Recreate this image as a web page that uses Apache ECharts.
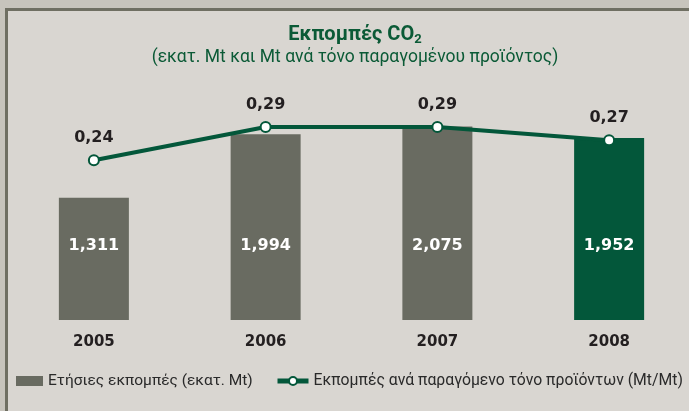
<!DOCTYPE html>
<html lang="el">
<head>
    <meta charset="UTF-8">
    <title>Εκπομπές CO2</title>
    <style>
        body { margin: 0; background: #c7c4bc; overflow: hidden; }
        #frame {
            position: absolute; left: 5px; top: 8px; right: 0; bottom: 0;
            border-left: 3px solid #6f6f62; border-top: 3px solid #6f6f62;
            background: #d9d6d1;
        }
        #container { position: absolute; left: 0; top: 0; width: 710px; height: 411px; }
    </style>
</head>
<body>
<div id="frame"></div>
<div id="container"></div>
<script type="text/javascript" src="https://cdn.jsdelivr.net/npm/echarts@6/dist/echarts.min.js"></script>
<script type="text/javascript">
    var years = ['2005', '2006', '2007', '2008'];
    var annualEmissions = [1.311, 1.994, 2.075, 1.952];
    var emissionsPerTon = [0.24, 0.29, 0.29, 0.27];

    var barName = 'Ετήσιες εκπομπές (εκατ. Mt)';
    var lineName = 'Εκπομπές ανά παραγόμενο τόνο προϊόντων (Mt/Mt)';

    var gray = '#696b61';
    var green = '#03573a';
    var textFont = 'Roboto, sans-serif';
    var numFont = '"DejaVu Sans", sans-serif';

    var dom = document.getElementById("container");
    var myChart = echarts.init(dom);

    // chart container is a bit wider than the window so the last bar sits where the original has it
    var option = {
        backgroundColor: 'transparent',
        animation: false,
        title: [{
            text: 'Εκπομπές CO{sub|2}',
            left: 'center',
            top: 24,
            padding: 0,
            textStyle: {
                fontFamily: textFont,
                fontSize: 20,
                fontWeight: 'bold',
                color: '#0b5a36',
                rich: {
                    sub: {
                        fontFamily: textFont,
                        fontSize: 13,
                        fontWeight: 'bold',
                        color: '#0b5a36',
                        verticalAlign: 'bottom',
                        padding: [9, 0, 0, 0]
                    }
                }
            }
        }, {
            text: '(εκατ. Mt και Mt ανά τόνο παραγομένου προϊόντος)',
            left: 'center',
            top: 49,
            padding: 0,
            textStyle: {
                fontFamily: textFont,
                fontSize: 17.5,
                fontWeight: 'normal',
                color: '#0b5a36'
            }
        }],
        legend: [{
            left: 16,
            top: 373,
            padding: 0,
            itemWidth: 27,
            itemHeight: 10,
            itemGap: 0,
            icon: 'rect',
            textStyle: { fontFamily: textFont, fontSize: 15.5, color: '#2a2a2a' },
            data: [{ name: barName, itemStyle: { color: gray } }]
        }, {
            left: 275,
            top: 373,
            padding: 0,
            itemWidth: 31,
            itemHeight: 10,
            lineStyle: { width: 5 },
            textStyle: { fontFamily: textFont, fontSize: 15.75, color: '#2a2a2a' },
            data: [lineName]
        }],
        grid: {
            left: 8,
            width: 687,
            top: 87,
            height: 233
        },
        xAxis: {
            type: 'category',
            data: years,
            axisLine: { show: false },
            axisTick: { show: false },
            axisLabel: {
                margin: 15,
                fontFamily: numFont,
                fontSize: 15,
                fontWeight: 'bold',
                color: '#231f20'
            }
        },
        yAxis: [{
            type: 'value',
            min: 0,
            max: 2.5,
            show: false,
            splitLine: { show: false }
        }, {
            type: 'value',
            min: 0,
            max: 0.35,
            show: false,
            splitLine: { show: false }
        }],
        series: [{
            name: barName,
            type: 'bar',
            barWidth: 70,
            data: annualEmissions,
            itemStyle: {
                color: function (p) {
                    return p.dataIndex === years.length - 1 ? green : gray;
                }
            },
            label: {
                show: true,
                position: 'insideBottom',
                distance: 66,
                fontFamily: numFont,
                fontSize: 16,
                fontWeight: 'bold',
                color: '#ffffff',
                formatter: function (p) {
                    return p.value.toFixed(3).replace('.', ',');
                }
            }
        }, {
            name: lineName,
            type: 'line',
            yAxisIndex: 1,
            data: emissionsPerTon,
            symbol: 'circle',
            symbolSize: 10,
            lineStyle: { color: green, width: 4 },
            itemStyle: { color: '#ffffff', borderColor: green, borderWidth: 2 },
            label: {
                show: true,
                position: 'top',
                distance: 8,
                fontFamily: numFont,
                fontSize: 16,
                fontWeight: 'bold',
                color: '#231f20',
                formatter: function (p) {
                    return p.value.toFixed(2).replace('.', ',');
                }
            }
        }]
    };

    myChart.setOption(option, true);
</script>
</body>
</html>
